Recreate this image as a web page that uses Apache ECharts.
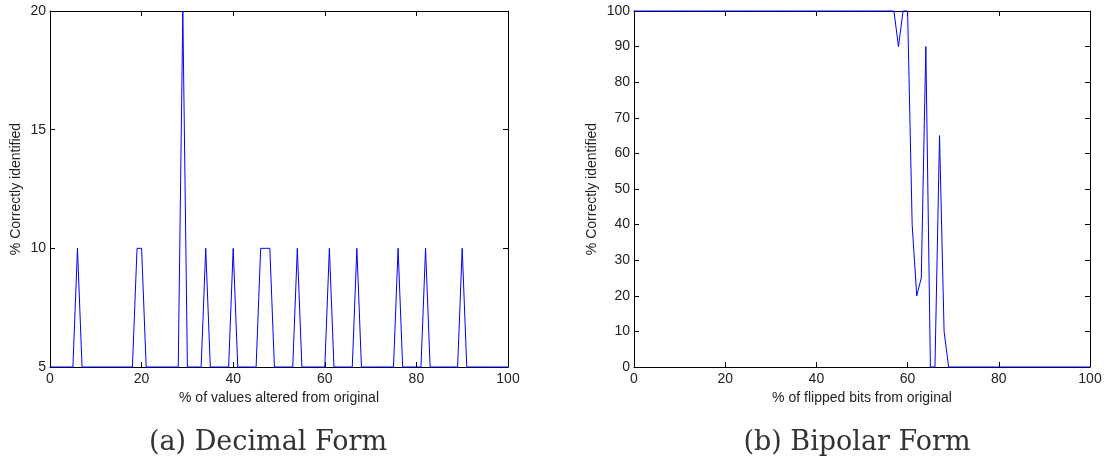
<!doctype html>
<html lang="en">
<head>
    <meta charset="UTF-8">
    <title>Correctly identified vs. altered values</title>
    <script src="https://cdn.jsdelivr.net/npm/echarts@6/dist/echarts.min.js"></script>
    <style>
        html, body { margin: 0; padding: 0; background: #fff; }
        #chart { width: 1109px; height: 469px; }
    </style>
</head>
<body>
<div id="chart"></div>
<script>
    // x positions, % altered / flipped
    var xPercent = [
        0, 1, 2, 3, 4, 5, 6, 7, 8, 9,
        10, 11, 12, 13, 14, 15, 16, 17, 18, 19,
        20, 21, 22, 23, 24, 25, 26, 27, 28, 29,
        30, 31, 32, 33, 34, 35, 36, 37, 38, 39,
        40, 41, 42, 43, 44, 45, 46, 47, 48, 49,
        50, 51, 52, 53, 54, 55, 56, 57, 58, 59,
        60, 61, 62, 63, 64, 65, 66, 67, 68, 69,
        70, 71, 72, 73, 74, 75, 76, 77, 78, 79,
        80, 81, 82, 83, 84, 85, 86, 87, 88, 89,
        90, 91, 92, 93, 94, 95, 96, 97, 98, 99, 100
    ];

    // (a) decimal form
    var decimalIdentified = [
        5, 5, 5, 5, 5, 5, 10, 5, 5, 5,
        5, 5, 5, 5, 5, 5, 5, 5, 5, 10,
        10, 5, 5, 5, 5, 5, 5, 5, 5, 20,
        5, 5, 5, 5, 10, 5, 5, 5, 5, 5,
        10, 5, 5, 5, 5, 5, 10, 10, 10, 5,
        5, 5, 5, 5, 10, 5, 5, 5, 5, 5,
        5, 10, 5, 5, 5, 5, 5, 10, 5, 5,
        5, 5, 5, 5, 5, 5, 10, 5, 5, 5,
        5, 5, 10, 5, 5, 5, 5, 5, 5, 5,
        10, 5, 5, 5, 5, 5, 5, 5, 5, 5, 5
    ];

    // (b) bipolar form
    var bipolarIdentified = [
        100, 100, 100, 100, 100, 100, 100, 100, 100, 100,
        100, 100, 100, 100, 100, 100, 100, 100, 100, 100,
        100, 100, 100, 100, 100, 100, 100, 100, 100, 100,
        100, 100, 100, 100, 100, 100, 100, 100, 100, 100,
        100, 100, 100, 100, 100, 100, 100, 100, 100, 100,
        100, 100, 100, 100, 100, 100, 100, 100, 90, 100,
        100, 40, 20, 25, 90, 0, 0, 65, 10, 0,
        0, 0, 0, 0, 0, 0, 0, 0, 0, 0,
        0, 0, 0, 0, 0, 0, 0, 0, 0, 0,
        0, 0, 0, 0, 0, 0, 0, 0, 0, 0, 0
    ];

    var decimalTicks = [5, 20, 5];     // min, max, step
    var bipolarTicks = [0, 100, 10];

    function pairs(ys) {
        return xPercent.map(function (x, i) { return [x, ys[i]]; });
    }

    var FONT = "'Liberation Sans', Arial, sans-serif";

    // bottom / left axes carry the labels, top / right only the ticks (matlab box)
    function xAx(grid, name, pos) {
        var main = pos === 'bottom';
        return {
            type: 'value', gridIndex: grid, position: pos, min: 0, max: 100, interval: 20,
            name: main ? name : '', nameLocation: 'middle', nameGap: 22,
            nameTextStyle: {fontFamily: FONT, fontSize: 14, color: '#222'},
            axisLine: {show: true, onZero: false, lineStyle: {color: '#000', width: 1}},
            axisTick: {show: true, inside: true, length: 5, lineStyle: {color: '#000'}},
            axisLabel: {show: main, margin: 5, fontFamily: FONT, fontSize: 14, color: '#222'},
            splitLine: {show: false}
        };
    }

    function yAx(grid, t, name, gap, pos) {
        var main = pos === 'left';
        return {
            type: 'value', gridIndex: grid, position: pos, min: t[0], max: t[1], interval: t[2],
            name: main ? name : '', nameLocation: 'middle', nameGap: gap, nameRotate: 90,
            nameTextStyle: {fontFamily: FONT, fontSize: 14, color: '#222'},
            axisLine: {show: true, onZero: false, lineStyle: {color: '#000', width: 1}},
            axisTick: {show: true, inside: true, length: 5, lineStyle: {color: '#000'}},
            axisLabel: {show: main, margin: 4, fontFamily: FONT, fontSize: 14, color: '#222'},
            splitLine: {show: false}
        };
    }

    var chart = echarts.init(document.getElementById('chart'), null, {renderer: 'canvas'});

    chart.setOption({
        animation: false,
        backgroundColor: '#fff',
        grid: [
            {left: 50, top: 11, width: 458, height: 356},
            {left: 634, top: 11, width: 456, height: 356}
        ],
        xAxis: [
            xAx(0, '% of values altered from original', 'bottom'),
            xAx(1, '% of flipped bits from original', 'bottom'),
            xAx(0, '', 'top'),
            xAx(1, '', 'top')
        ],
        yAxis: [
            yAx(0, decimalTicks, '% Correctly identified', 27, 'left'),
            yAx(1, bipolarTicks, '% Correctly identified', 35, 'left'),
            yAx(0, decimalTicks, '', 0, 'right'),
            yAx(1, bipolarTicks, '', 0, 'right')
        ],
        series: [
            {
                type: 'line', xAxisIndex: 0, yAxisIndex: 0, data: pairs(decimalIdentified),
                showSymbol: false, clip: false,
                lineStyle: {color: '#0000ff', width: 1}
            },
            {
                type: 'line', xAxisIndex: 1, yAxisIndex: 1, data: pairs(bipolarIdentified),
                showSymbol: false, clip: false,
                lineStyle: {color: '#0000ff', width: 1}
            }
        ],
        graphic: [
            {
                type: 'text', x: 268, y: 443,
                style: {text: '(a) Decimal Form', fill: '#333', align: 'center', verticalAlign: 'middle',
                    font: "27px 'DejaVu Serif', 'Liberation Serif', serif"}
            },
            {
                type: 'text', x: 857, y: 443,
                style: {text: '(b) Bipolar Form', fill: '#333', align: 'center', verticalAlign: 'middle',
                    font: "27px 'DejaVu Serif', 'Liberation Serif', serif"}
            }
        ]
    });
</script>
</body>
</html>
